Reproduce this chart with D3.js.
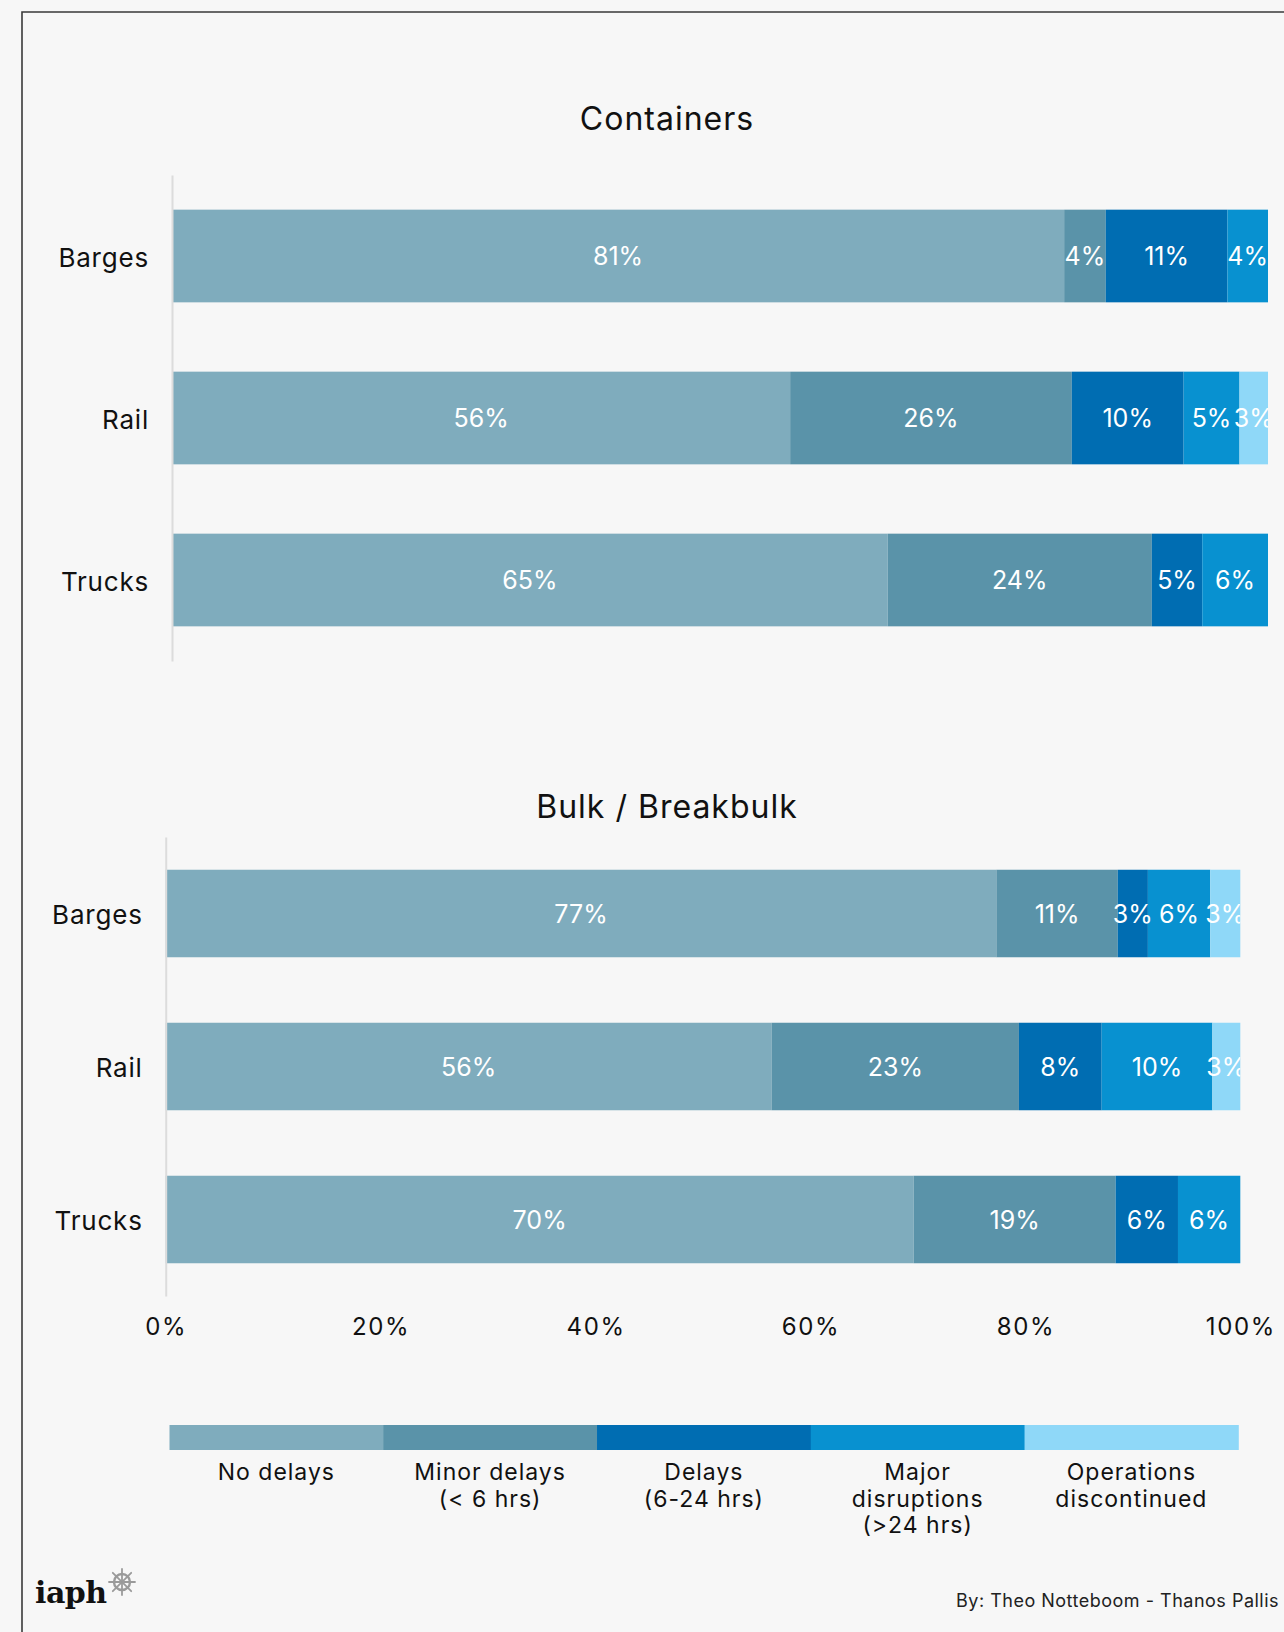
<!DOCTYPE html>
<html>
<head>
<meta charset="utf-8">
<script src="https://cdn.jsdelivr.net/npm/d3@7"></script>
<style>
  html, body { margin: 0; padding: 0; background: #f7f7f7; }
  svg { display: block; font-family: "Inter", "Noto Sans", sans-serif; }
</style>
</head>
<body>
<svg id="chart" width="1284" height="1632"></svg>
<script>
// Transport modes (rows of each panel)
const categories = ["Barges", "Rail", "Trucks"];

// Delay classes, in stacking order
const seriesKeys = ["none", "minor", "delays", "major", "stopped"];
const seriesNames = ["No delays", "Minor delays (< 6 hrs)", "Delays (6-24 hrs)", "Major disruptions (>24 hrs)", "Operations discontinued"];
const legendLines = [["No delays"], ["Minor delays", "(< 6 hrs)"], ["Delays", "(6-24 hrs)"], ["Major", "disruptions", "(>24 hrs)"], ["Operations", "discontinued"]];
const seriesColors = ["#7facbd", "#5a93a9", "#006db2", "#0891d0", "#8fd8f8"];

// Containers: share of respondents (%) per mode
const containersNoDelays     = [81.4, 56.4, 65.3];
const containersMinor        = [3.8, 25.7, 24.1];
const containersDelays       = [11.1, 10.2, 4.6];
const containersMajor        = [3.7, 5.1, 6.0];
const containersDiscontinued = [0, 2.6, 0];

// Bulk / breakbulk: share of respondents (%) per mode
const bulkNoDelays     = [77.3, 56.4, 69.6];
const bulkMinor        = [11.3, 23.0, 18.8];
const bulkDelays       = [2.8, 7.7, 5.8];
const bulkMajor        = [5.8, 10.3, 5.8];
const bulkDiscontinued = [2.8, 2.6, 0];

// Axis ticks
const tickValues = [0, 20, 40, 60, 80, 100];

function rows(cols) {
  return categories.map((c, i) => {
    const r = { mode: c };
    seriesKeys.forEach((k, j) => { r[k] = cols[j][i]; });
    return r;
  });
}

const containersRows = rows([containersNoDelays, containersMinor, containersDelays, containersMajor, containersDiscontinued]);
const bulkRows = rows([bulkNoDelays, bulkMinor, bulkDelays, bulkMajor, bulkDiscontinued]);

const color = d3.scaleOrdinal().domain(seriesKeys).range(seriesColors);
const svg = d3.select("#chart");

svg.append("rect").attr("width", 1284).attr("height", 1632).attr("fill", "#f7f7f7");

// card frame (top and left edges)
svg.append("path")
  .attr("d", "M22,1632V12H1284")
  .attr("fill", "none")
  .attr("stroke", "#3a3a3a")
  .attr("stroke-width", 1.6);

function panel(opts) {
  const { id, data, title, titleY, x0, x1, y0, y1, showTicks } = opts;
  const g = svg.append("g");

  const x = d3.scaleLinear().domain([0, 100]).range([x0, x1]);
  const y = d3.scaleBand().domain(categories).range([y0, y1])
    .paddingInner(0.428).paddingOuter(0.214);

  g.append("text")
    .attr("x", 667).attr("y", titleY)
    .attr("text-anchor", "middle")
    .attr("font-size", 32)
    .attr("letter-spacing", 1)
    .attr("fill", "#111")
    .text(title);

  const series = d3.stack().keys(seriesKeys)(data);

  g.append("clipPath").attr("id", id)
    .append("rect").attr("x", x0).attr("y", y0).attr("width", x1 - x0).attr("height", y1 - y0);

  const layers = g.append("g").selectAll("g")
    .data(series).join("g")
    .attr("fill", d => color(d.key));

  layers.selectAll("rect")
    .data(d => d.filter(s => s[1] - s[0] > 0))
    .join("rect")
    .attr("x", d => x(d[0]))
    .attr("y", d => y(d.data.mode))
    .attr("width", d => x(d[1]) - x(d[0]))
    .attr("height", y.bandwidth());

  const labels = g.append("g").attr("clip-path", `url(#${id})`);
  series.forEach(s => {
    labels.selectAll(null)
      .data(s.filter(d => d[1] - d[0] > 0))
      .join("text")
      .attr("x", d => x((d[0] + d[1]) / 2))
      .attr("y", d => y(d.data.mode) + y.bandwidth() / 2)
      .attr("dy", "0.37em")
      .attr("text-anchor", "middle")
      .attr("font-size", 25)
      .attr("fill", "#fff")
      .text(d => Math.round(d[1] - d[0]) + "%");
  });

  const yAxis = g.append("g")
    .attr("transform", `translate(${x0},0)`)
    .call(d3.axisLeft(y).tickSize(0).tickSizeOuter(0).tickPadding(23));
  yAxis.select(".domain").attr("stroke", "#dcdcdc").attr("stroke-width", 2);
  yAxis.selectAll("text")
    .attr("font-size", 26)
    .attr("dy", "0.42em")
    .attr("letter-spacing", 0.8)
    .attr("font-family", "Inter, 'Noto Sans', sans-serif")
    .attr("fill", "#111");

  if (showTicks) {
    const xAxis = g.append("g")
      .attr("transform", `translate(0,${y1})`)
      .call(d3.axisBottom(x).tickValues(tickValues).tickFormat(d => d + "%").tickSize(0).tickPadding(22));
    xAxis.select(".domain").remove();
    xAxis.selectAll("text")
      .attr("font-size", 24)
      .attr("letter-spacing", 1.6)
      .attr("font-family", "Inter, 'Noto Sans', sans-serif")
      .attr("fill", "#111");
  }
}

panel({ id: "clipContainers", data: containersRows, title: "Containers", titleY: 130,
        x0: 172, x1: 1268, y0: 175, y1: 661, showTicks: false });
panel({ id: "clipBulk", data: bulkRows, title: "Bulk / Breakbulk", titleY: 818,
        x0: 165.7, x1: 1240.3, y0: 837, y1: 1296, showTicks: true });

// legend
const lx = d3.scaleBand().domain(seriesKeys).range([169.5, 1238.3]);
const legend = svg.append("g");
legend.selectAll("rect")
  .data(seriesKeys).join("rect")
  .attr("x", d => lx(d))
  .attr("y", 1425)
  .attr("width", lx.bandwidth() + 0.5)
  .attr("height", 25)
  .attr("fill", d => color(d));

const legendText = legend.selectAll("text")
  .data(seriesKeys).join("text")
  .attr("text-anchor", "middle")
  .attr("font-size", 23)
  .attr("letter-spacing", 1)
  .attr("fill", "#111");
legendText.each(function (d, i) {
  d3.select(this).selectAll("tspan")
    .data(legendLines[i]).join("tspan")
    .attr("x", lx(d) + lx.bandwidth() / 2)
    .attr("y", (t, j) => 1480 + j * 26.5)
    .text(t => t);
});

// footer: publisher mark and authors
const logo = svg.append("g");
logo.append("text")
  .attr("x", 35).attr("y", 1603)
  .attr("font-family", "'DejaVu Serif', serif")
  .attr("font-weight", "bold")
  .attr("font-size", 30)
  .attr("letter-spacing", -0.5)
  .attr("fill", "#111")
  .text("iaph");

const wheel = logo.append("g").attr("transform", "translate(122,1582)")
  .attr("stroke", "#9a9a9a").attr("fill", "none");
wheel.append("circle").attr("r", 8).attr("stroke-width", 2.4);
wheel.append("circle").attr("r", 2).attr("fill", "#9a9a9a").attr("stroke", "none");
d3.range(8).forEach(i => {
  const a = i * Math.PI / 4;
  wheel.append("line")
    .attr("x1", Math.cos(a) * 2).attr("y1", Math.sin(a) * 2)
    .attr("x2", Math.cos(a) * 13).attr("y2", Math.sin(a) * 13)
    .attr("stroke-width", 1.8)
    .attr("stroke-linecap", "round");
});

svg.append("text")
  .attr("x", 956).attr("y", 1607)
  .attr("font-size", 18)
  .attr("letter-spacing", 0.5)
  .attr("fill", "#222")
  .text("By: Theo Notteboom - Thanos Pallis");
</script>
</body>
</html>
